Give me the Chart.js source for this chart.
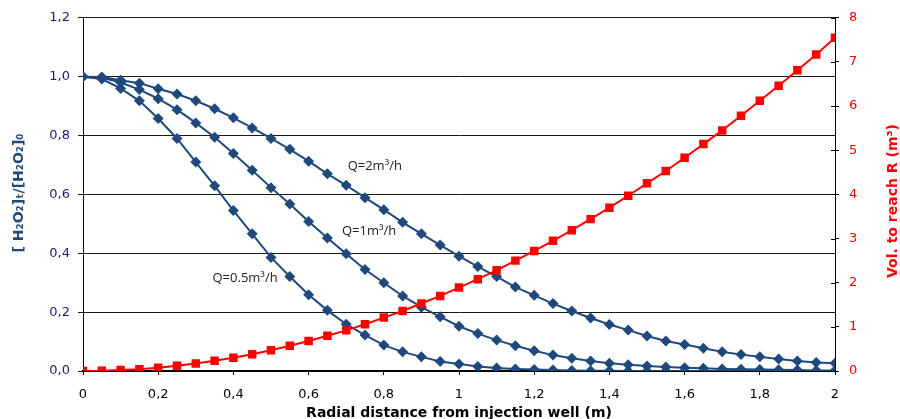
<!DOCTYPE html>
<html>
<head>
<meta charset="utf-8">
<script src="https://cdn.jsdelivr.net/npm/chart.js@4.4.1/dist/chart.umd.min.js"></script>
<style>
  html, body { margin: 0; padding: 0; background: #fff; }
  #wrap { width: 900px; height: 419px; position: relative; }
</style>
</head>
<body>
<div id="wrap"><canvas id="c"></canvas></div>
<script>
// radial distance (m)
const radius = [0, 0.05, 0.1, 0.15, 0.2, 0.25, 0.3, 0.35, 0.4, 0.45, 0.5, 0.55, 0.6, 0.65, 0.7, 0.75, 0.8, 0.85, 0.9, 0.95,
  1, 1.05, 1.1, 1.15, 1.2, 1.25, 1.3, 1.35, 1.4, 1.45, 1.5, 1.55, 1.6, 1.65, 1.7, 1.75, 1.8, 1.85, 1.9, 1.95, 2];

// [H2O2]t/[H2O2]0 for each flow rate
const q05 = [1.000, 0.992, 0.960, 0.918, 0.858, 0.790, 0.710, 0.629, 0.545, 0.466, 0.386, 0.321, 0.259, 0.206, 0.159, 0.122,
  0.088, 0.065, 0.048, 0.032, 0.024, 0.015, 0.010, 0.007, 0.005, 0.003, 0.002, 0.001, 0.001, 0, 0, 0, 0, 0, 0, 0, 0, 0, 0, 0, 0];
const q1 = [1.000, 0.997, 0.980, 0.956, 0.925, 0.888, 0.843, 0.794, 0.739, 0.682, 0.623, 0.567, 0.508, 0.452, 0.398, 0.345,
  0.300, 0.255, 0.217, 0.184, 0.152, 0.127, 0.105, 0.086, 0.069, 0.054, 0.043, 0.034, 0.026, 0.021, 0.017, 0.014, 0.011, 0.009,
  0.007, 0.006, 0.005, 0.004, 0.003, 0.002, 0.002];
const q2 = [1.000, 0.999, 0.988, 0.978, 0.959, 0.941, 0.918, 0.891, 0.860, 0.826, 0.790, 0.753, 0.713, 0.670, 0.631, 0.589,
  0.548, 0.505, 0.466, 0.428, 0.390, 0.355, 0.321, 0.285, 0.257, 0.229, 0.204, 0.180, 0.158, 0.139, 0.119, 0.102, 0.090, 0.077,
  0.065, 0.056, 0.048, 0.041, 0.034, 0.029, 0.026];

// volume needed to reach R (m3)
const vol = [0, 0.005, 0.02, 0.04, 0.075, 0.12, 0.17, 0.23, 0.30, 0.38, 0.47, 0.57, 0.68, 0.80, 0.92, 1.06, 1.21, 1.36, 1.53,
  1.70, 1.89, 2.08, 2.28, 2.50, 2.72, 2.95, 3.19, 3.44, 3.70, 3.97, 4.25, 4.53, 4.83, 5.14, 5.45, 5.78, 6.12, 6.46, 6.81, 7.17, 7.55];

// curve labels: text, x, y (in data units of left axis)
const curveLabels = ["Q=2m³/h", "Q=1m³/h", "Q=0.5m³/h"];
const curveLabelX = [0.776, 0.761, 0.431];
const curveLabelY = [0.697, 0.473, 0.314];

const BLUE = "#1F497D";
const RED = "#FF0000";

const pts = (ys) => radius.map((x, i) => ({ x, y: ys[i] }));
const comma = (v) => (Math.abs(v - Math.round(v)) < 1e-9 ? String(Math.round(v)) : v.toFixed(1).replace(".", ","));

Chart.defaults.font.family = "'DejaVu Sans', Verdana, sans-serif";
Chart.defaults.font.size = 13;

// axis titles, curve labels, right-axis ticks crossing the axis line
const textPlugin = {
  id: "textPlugin",
  afterDraw(chart) {
    const { ctx, scales } = chart;
    ctx.save();

    const r = scales.y1;
    ctx.strokeStyle = "#000";
    ctx.lineWidth = 1;
    r.ticks.forEach((t) => {
      const py = Math.round(r.getPixelForValue(t.value)) + 0.5;
      ctx.beginPath();
      ctx.moveTo(r.left - 4, py);
      ctx.lineTo(r.left, py);
      ctx.stroke();
    });

    ctx.textAlign = "center";
    ctx.textBaseline = "middle";

    ctx.font = "bold 14px 'DejaVu Sans'";
    ctx.fillStyle = BLUE;
    ctx.save();
    ctx.translate(19, 193);
    ctx.rotate(-Math.PI / 2);
    ctx.fillText("[ H₂O₂]ₜ/[H₂O₂]₀", 0, 0);
    ctx.restore();

    ctx.fillStyle = RED;
    ctx.save();
    ctx.translate(893, 201);
    ctx.rotate(-Math.PI / 2);
    ctx.fillText("Vol. to reach R (m³)", 0, 0);
    ctx.restore();

    ctx.fillStyle = "#000";
    ctx.fillText("Radial distance from injection well (m)", 459, 413);

    ctx.font = "13px 'Open Sans'";
    ctx.fillStyle = "#222";
    curveLabels.forEach((t, i) => {
      ctx.fillText(t, scales.x.getPixelForValue(curveLabelX[i]), scales.y.getPixelForValue(curveLabelY[i]));
    });
    ctx.restore();
  },
};

new Chart(document.getElementById("c"), {
  type: "line",
  data: {
    datasets: [
      {
        label: "Vol",
        data: pts(vol),
        yAxisID: "y1",
        borderColor: RED,
        backgroundColor: RED,
        borderWidth: 2,
        pointStyle: "rect",
        pointRadius: 6,
        pointBorderWidth: 0,
      },
      { label: "Q=2", data: pts(q2), yAxisID: "y", borderColor: BLUE, backgroundColor: BLUE, borderWidth: 2,
        pointStyle: "rectRot", pointRadius: 5.5, pointBorderWidth: 0 },
      { label: "Q=1", data: pts(q1), yAxisID: "y", borderColor: BLUE, backgroundColor: BLUE, borderWidth: 2,
        pointStyle: "rectRot", pointRadius: 5.5, pointBorderWidth: 0 },
      { label: "Q=0.5", data: pts(q05), yAxisID: "y", borderColor: BLUE, backgroundColor: BLUE, borderWidth: 2,
        pointStyle: "rectRot", pointRadius: 5.5, pointBorderWidth: 0 },
    ],
  },
  options: {
    responsive: true,
    maintainAspectRatio: false,
    animation: false,
    layout: { padding: { top: 16, left: 0, right: 0, bottom: 0 } },
    plugins: { legend: { display: false }, tooltip: { enabled: false } },
    scales: {
      x: {
        type: "linear",
        min: 0,
        max: 2,
        afterFit(s) { s.height = 48; },
        ticks: { stepSize: 0.2, color: "#000", padding: 12, maxRotation: 0, callback: (v) => comma(v) },
        grid: { drawOnChartArea: false, tickLength: 4, color: "#000" },
        border: { color: "#000", width: 2 },
      },
      y: {
        position: "left",
        min: 0,
        max: 1.2,
        afterFit(s) { s.width = 83; },
        ticks: { stepSize: 0.2, color: "#1a1a80", padding: 8, callback: (v) => v.toFixed(1).replace(".", ",") },
        grid: { color: "#1a1a1a", tickLength: 5 },
        border: { color: "#000", width: 1 },
      },
      y1: {
        position: "right",
        min: 0,
        max: 8,
        afterFit(s) { s.width = 65; },
        ticks: { stepSize: 1, color: RED, padding: 10 },
        grid: { drawOnChartArea: false, tickLength: 4, color: "#000" },
        border: { color: "#000", width: 1 },
      },
    },
  },
  plugins: [textPlugin],
});
</script>
</body>
</html>
